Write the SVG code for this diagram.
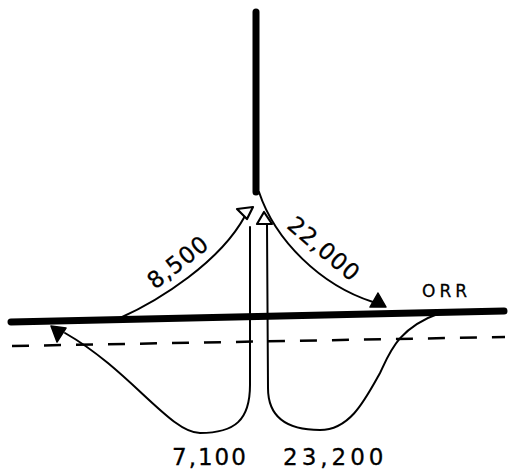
<svg xmlns="http://www.w3.org/2000/svg" width="508" height="475" viewBox="0 0 508 475">
<style>
.thin{fill:none;stroke:#000;stroke-width:2;stroke-linecap:round}
.thick{fill:none;stroke:#000;stroke-width:7;stroke-linecap:round}
.dash{fill:none;stroke:#000;stroke-width:2.5;stroke-dasharray:17 15}
.open{fill:#fff;stroke:#000;stroke-width:2.2;stroke-linejoin:round}
.solid{fill:#000;stroke:#000;stroke-width:1.5;stroke-linejoin:round}
text{font-family:"DejaVu Sans","Liberation Sans",sans-serif;fill:#000;stroke:#000;stroke-width:0.3}
.lbl{font-size:23px;letter-spacing:1px}
</style>
<rect width="508" height="475" fill="#fff"/>
<g id="roads">
<line class="thick" x1="256" y1="12" x2="256" y2="192"/>
<path class="thick" d="M11,322 L504,311"/>
<path class="dash" d="M12,346 L505,337"/>
</g>
<g id="connectors">
<path class="thin" d="M120,318 C160,300 220,262 245,216"/>
<path class="thin" d="M259,192 C275,240 320,285 373,302"/>
<path class="thin" d="M250,227 L250,385 C250,420 235,433 200,433 C170,433 130,370 65,333"/>
<path class="thin" d="M267,225 L268,388 C268,420 290,430 320,430 C350,430 365,400 380,373 C390,352 398,328 440,313"/>
<polygon class="open" points="237,209 253,207 247,219"/>
<polygon class="open" points="264,212 257,224 272,224"/>
<polygon class="solid" points="378,293 370,307 386,307"/>
<polygon class="solid" points="51,326 66,328 57,342"/>
</g>
<g id="labels">
<text class="lbl" x="178" y="262" text-anchor="middle" dominant-baseline="central" transform="rotate(-38 178 262)">8,500</text>
<text class="lbl" x="324" y="249" text-anchor="middle" dominant-baseline="central" transform="rotate(40 324 249)">22,000</text>
<text x="422" y="297" font-size="17" letter-spacing="4">ORR</text>
<text class="lbl" x="172" y="465" style="letter-spacing:2px">7,100</text>
<text class="lbl" x="283" y="465" style="letter-spacing:4px">23,200</text>
</g>
</svg>
